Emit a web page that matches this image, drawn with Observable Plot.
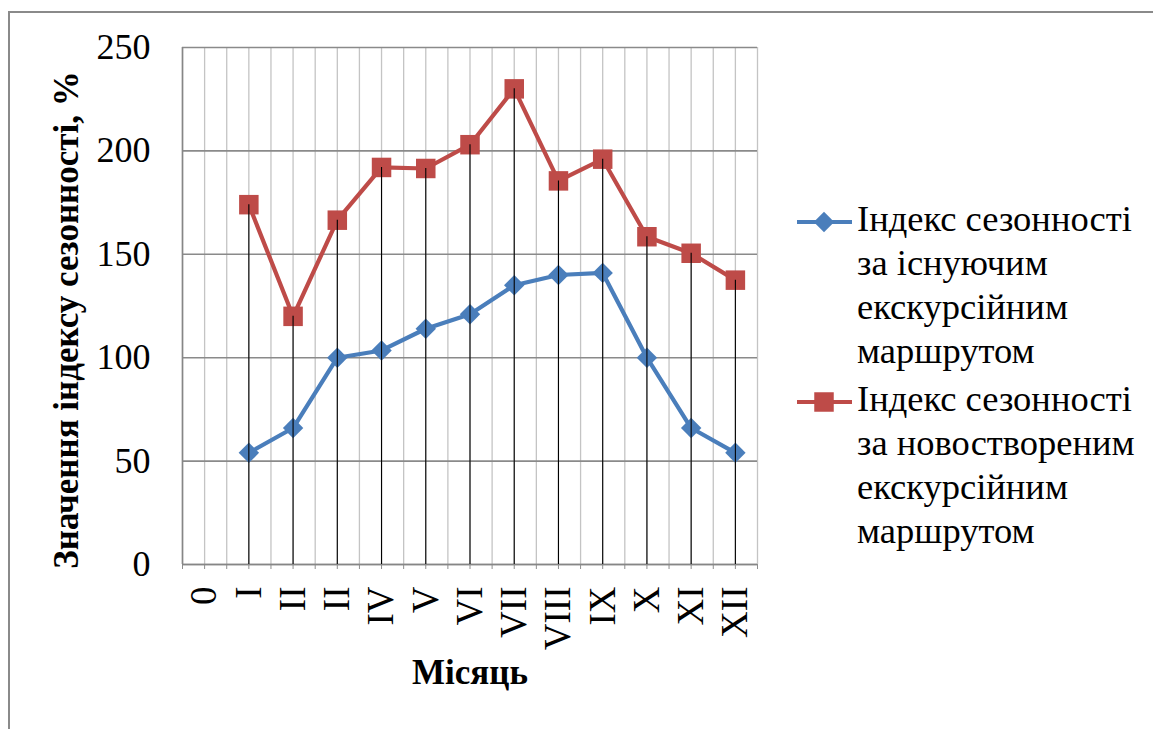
<!DOCTYPE html>
<html><head><meta charset="utf-8">
<script src="https://cdn.jsdelivr.net/npm/d3@7"></script>
<script src="https://cdn.jsdelivr.net/npm/@observablehq/plot@0.6"></script>
<style>
html,body{margin:0;padding:0;background:#fff;overflow:hidden;}
#wrap{position:relative;width:1153px;height:729px;overflow:hidden;font-family:"Liberation Serif","DejaVu Serif","Times New Roman",serif;}
#border{position:absolute;left:8px;top:11px;width:1300px;height:900px;border-left:2px solid #8a8a8a;border-top:2px solid #8a8a8a;}
#chart{position:absolute;left:0;top:0;}
#legend{position:absolute;left:796px;top:197px;font-size:36.5px;line-height:44px;color:#000;}
.item{display:flex;align-items:flex-start;margin-bottom:4px;}
.item svg{flex:none;}
</style></head><body>
<div id="wrap"><div id="border"></div><div id="chart"></div><div id="legend"></div></div>
<script>
const months = ["0","I","II","II","IV","V","VI","VII","VIII","IX","X","XI","XII"];
const existing = [null,54,66,100,103.5,114,121,135,140,141,100,66,54];
const created = [null,174,120,166.5,192,191.5,203,230,185.5,196,158.5,150.5,137.5];
const legendLines = [
  ["Індекс сезонності","за існуючим","екскурсійним","маршрутом"],
  ["Індекс сезонності","за новоствореним","екскурсійним","маршрутом"]
];
const yTicks = [0,50,100,150,200,250];
const yTitle = "Значення індексу сезонності, %";
const xTitle = "Місяць";
const colors = ["#4A7EBB","#BE4B48"];
const symbols = ["diamond2","square"];
const radii = [9.2, 11];

const rows = months.map((m,i)=>({i, m, a: existing[i], b: created[i]}));
const valid = rows.filter(d => d.a != null);
const halfSteps = d3.range(-0.5, months.length, 0.5);
const FONT = "'Liberation Serif', 'DejaVu Serif', 'Times New Roman', serif";

const chart = Plot.plot({
  width: 1153, height: 729,
  marginLeft: 182, marginRight: 396, marginTop: 47, marginBottom: 165,
  style: {fontFamily: FONT, fontSize: "34px", color: "#000", background: "transparent", overflow: "visible"},
  x: {type: "linear", domain: [-0.5, months.length - 0.5], axis: null},
  y: {domain: [0, 250], axis: null},
  marks: [
    Plot.gridX(halfSteps, {stroke: "#c4c4c4", strokeOpacity: 1, strokeWidth: 1.3}),
    Plot.gridY(yTicks, {stroke: "#8a8a8a", strokeOpacity: 1, strokeWidth: 1.6}),
    Plot.axisX(halfSteps, {tickSize: 5, tickFormat: () => "", stroke: "#8e8e8e", label: null}),
    Plot.axisX(d3.range(months.length), {tickSize: 0, tickPadding: 22, tickRotate: -90, tickFormat: i => months[i], fontSize: 37, fontFamily: FONT, label: null}),
    Plot.axisY(yTicks, {tickSize: 0, tickPadding: 32, fontSize: 36, fontFamily: FONT, label: null}),
    Plot.ruleY([0], {stroke: "#868686", strokeWidth: 1.6}),
    Plot.ruleX([-0.5], {stroke: "#868686", strokeWidth: 1.6}),
    Plot.line(valid, {x: "i", y: "a", stroke: colors[0], strokeWidth: 4.2}),
    Plot.line(valid, {x: "i", y: "b", stroke: colors[1], strokeWidth: 4.2}),
    Plot.dot(valid, {x: "i", y: "a", symbol: symbols[0], r: radii[0], fill: colors[0], stroke: null}),
    Plot.dot(valid, {x: "i", y: "b", symbol: symbols[1], r: radii[1], fill: colors[1], stroke: null}),
    Plot.ruleX(valid, {x: "i", y1: 0, y2: d => Math.max(d.a, d.b), stroke: "#000", strokeWidth: 1.1}),
    Plot.text([yTitle], {text: d => d, frameAnchor: "left", textAnchor: "middle", dx: -116, dy: 14, rotate: -90, fontWeight: "bold", fontSize: 35, fontFamily: FONT}),
    Plot.text([xTitle], {text: d => d, frameAnchor: "bottom", textAnchor: "middle", dy: 119, fontWeight: "bold", fontSize: 35, fontFamily: FONT})
  ]
});
document.getElementById("chart").appendChild(chart);

const legend = document.getElementById("legend");
legendLines.forEach((lines, k) => {
  const item = document.createElement("div");
  item.className = "item";
  const sym = d3.create("svg").attr("width", 61).attr("height", 44);
  sym.append("line").attr("x1", 1).attr("x2", 56).attr("y1", 25).attr("y2", 25)
    .attr("stroke", colors[k]).attr("stroke-width", 4.2);
  const shape = k === 0 ? d3.symbolDiamond2 : d3.symbolSquare;
  const size = Math.PI * radii[k] ** 2;
  sym.append("path").attr("d", d3.symbol(shape, size)()).attr("transform", "translate(28,25)").attr("fill", colors[k]);
  item.appendChild(sym.node());
  const txt = document.createElement("div");
  txt.innerHTML = lines.map(s => `<div>${s}</div>`).join("");
  item.appendChild(txt);
  legend.appendChild(item);
});
</script>
</body></html>
